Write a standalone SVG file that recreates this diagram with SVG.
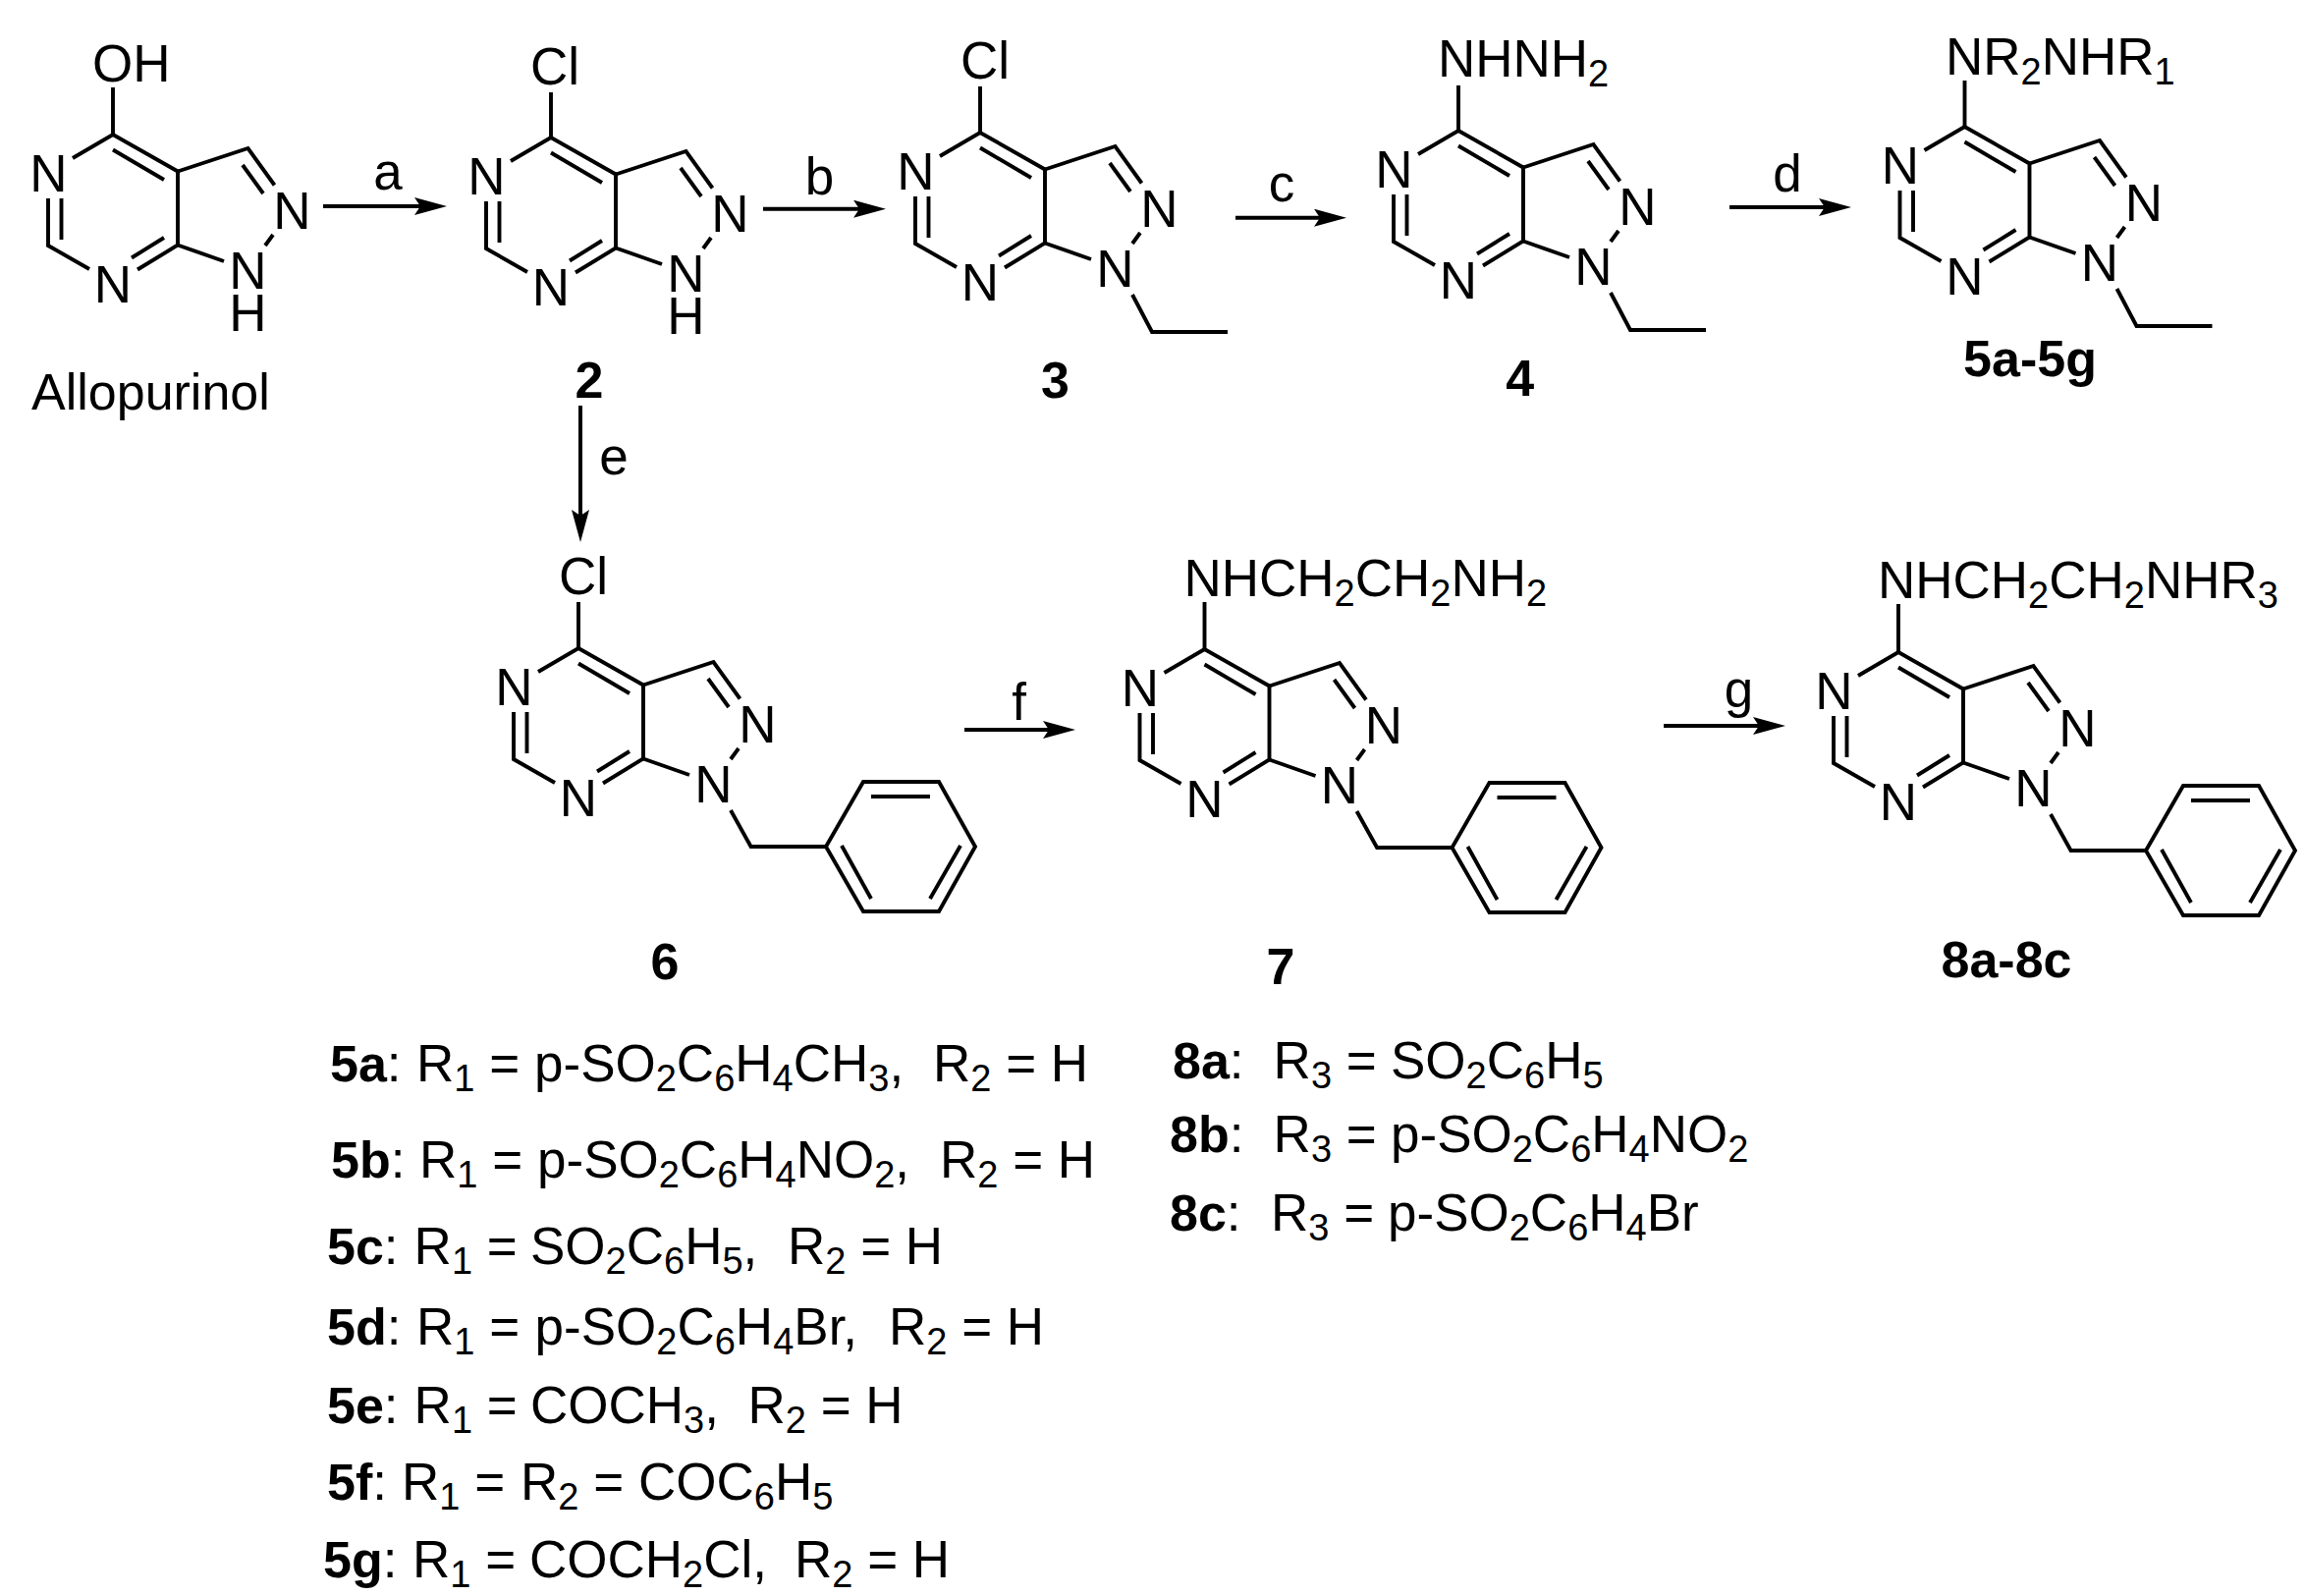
<svg xmlns="http://www.w3.org/2000/svg" xmlns:xlink="http://www.w3.org/1999/xlink" width="2346" height="1625" viewBox="0 0 2346 1625">
<style>
text{font-family:"Liberation Sans",Arial,sans-serif;font-size:53px;fill:#000}
.b{font-weight:bold;font-size:52px}
.s{font-size:38px}
.m{text-anchor:middle}
.bond{fill:none;stroke:#000;stroke-width:3.9;stroke-linecap:butt;stroke-linejoin:miter}
.arrow{fill:none;stroke:#000;stroke-width:4;marker-end:url(#head)}
</style>
<defs>
<marker id="head" markerUnits="userSpaceOnUse" viewBox="-6 -9 33 18" refX="0" refY="0" markerWidth="33" markerHeight="18" orient="auto"><path d="M0,0L-6,-9L27,0L-6,9Z" fill="#000"/></marker>
<g id="core" class="bond">
<path d="M-41,24L0,0L66,37.5L66,112.5L25,137.5"/>
<path d="M0,15.5L52,46"/>
<path d="M19,125.5L52,105"/>
<path d="M-66,65L-66,113L-24,137"/>
<path d="M-52.5,65L-52.5,107"/>
<path d="M66,37.5L137.5,14L164.5,51.5"/>
<path d="M132,31L153,60"/>
<path d="M163,102L155,113"/>
<path d="M66,112.5L113,129"/>
</g>
<path id="ethyl" class="bond" d="M155,165L175,203L252,203"/>
<g id="benzyl" class="bond">
<path d="M155,165L175.6,202L252,202"/>
<path d="M252,202L290,136L367,136L404,202L367,268L290,268Z"/>
<path d="M298,151L358,151M268,201L298,255M389,201L358,255"/>
</g>
</defs>
<g id="node-allopurinol" transform="translate(115,137)">
<use href="#core"/>
<path class="bond" d="M0,0V-48"/>
<text x="-21" y="-54">OH</text>
<text class="m" x="-65.5" y="58">N</text><text class="m" x="0" y="171">N</text><text class="m" x="182.5" y="96">N</text><text class="m"><tspan x="137.5" y="157">N</tspan><tspan x="137.5" y="200">H</tspan></text>
<text x="-83" y="280" style="font-size:52px">Allopurinol</text>
</g>
<g id="node-2" transform="translate(561,140)">
<use href="#core"/>
<path class="bond" d="M0,0V-46"/>
<text x="-21" y="-54">Cl</text>
<text class="m" x="-65.5" y="58">N</text><text class="m" x="0" y="171">N</text><text class="m" x="182.5" y="96">N</text><text class="m"><tspan x="137.5" y="157">N</tspan><tspan x="137.5" y="200">H</tspan></text>
<text class="b m" x="39" y="265">2</text>
</g>
<g id="node-3" transform="translate(998,135)">
<use href="#core"/><use href="#ethyl"/>
<path class="bond" d="M0,0V-47"/>
<text x="-20" y="-55">Cl</text>
<text class="m" x="-65.5" y="58">N</text><text class="m" x="0" y="171">N</text><text class="m" x="182.5" y="96">N</text><text class="m" x="137.5" y="157">N</text>
<text class="b m" x="76.5" y="270">3</text>
</g>
<g id="node-4" transform="translate(1485,133)">
<use href="#core"/><use href="#ethyl"/>
<path class="bond" d="M0,0V-46"/>
<text x="-21" y="-55">NHNH<tspan class="s" dy="10">2</tspan></text>
<text class="m" x="-65.5" y="58">N</text><text class="m" x="0" y="171">N</text><text class="m" x="182.5" y="96">N</text><text class="m" x="137.5" y="157">N</text>
<text class="b m" x="62.6" y="270">4</text>
</g>
<g id="node-5" transform="translate(2000.5,129)">
<use href="#core"/><use href="#ethyl"/>
<path class="bond" d="M0,0V-47"/>
<text x="-19.5" y="-53">NR<tspan class="s" dy="10">2</tspan><tspan dy="-10">NHR</tspan><tspan class="s" dy="10">1</tspan></text>
<text class="m" x="-65.5" y="58">N</text><text class="m" x="0" y="171">N</text><text class="m" x="182.5" y="96">N</text><text class="m" x="137.5" y="157">N</text>
<text class="b m" x="66.5" y="254">5a-5g</text>
</g>
<g id="node-6" transform="translate(589,660)">
<use href="#core"/><use href="#benzyl"/>
<path class="bond" d="M0,0V-47"/>
<text x="-20" y="-55">Cl</text>
<text class="m" x="-65.5" y="58">N</text><text class="m" x="0" y="171">N</text><text class="m" x="182.5" y="96">N</text><text class="m" x="137.5" y="157">N</text>
<text class="b m" x="88" y="337">6</text>
</g>
<g id="node-7" transform="translate(1226.5,661)">
<use href="#core"/><use href="#benzyl"/>
<path class="bond" d="M0,0V-48"/>
<text x="-21" y="-54">NHCH<tspan class="s" dy="10">2</tspan><tspan dy="-10">CH</tspan><tspan class="s" dy="10">2</tspan><tspan dy="-10">NH</tspan><tspan class="s" dy="10">2</tspan></text>
<text class="m" x="-65.5" y="58">N</text><text class="m" x="0" y="171">N</text><text class="m" x="182.5" y="96">N</text><text class="m" x="137.5" y="157">N</text>
<text class="b m" x="77.5" y="341">7</text>
</g>
<g id="node-8" transform="translate(1933,664)">
<use href="#core"/><use href="#benzyl"/>
<path class="bond" d="M0,0V-49"/>
<text x="-21" y="-55">NHCH<tspan class="s" dy="10">2</tspan><tspan dy="-10">CH</tspan><tspan class="s" dy="10">2</tspan><tspan dy="-10">NHR</tspan><tspan class="s" dy="10">3</tspan></text>
<text class="m" x="-65.5" y="58">N</text><text class="m" x="0" y="171">N</text><text class="m" x="182.5" y="96">N</text><text class="m" x="137.5" y="157">N</text>
<text class="b m" x="110" y="331">8a-8c</text>
</g>
<g id="connectors">
<path class="arrow" d="M329,210H428"/>
<path class="arrow" d="M777,212.7H875"/>
<path class="arrow" d="M1258,221.7H1344"/>
<path class="arrow" d="M1761,211H1858"/>
<path class="arrow" d="M591,413V525"/>
<path class="arrow" d="M982,743H1068"/>
<path class="arrow" d="M1694,739H1791"/>
<text class="m" x="395" y="193">a</text>
<text class="m" x="834.5" y="198">b</text>
<text class="m" x="1305" y="205">c</text>
<text class="m" x="1820" y="195">d</text>
<text class="m" x="625" y="483">e</text>
<text class="m" x="1037.5" y="733">f</text>
<text class="m" x="1770.5" y="720">g</text>
</g>
<g id="legend-5">
<text x="336" y="1100.6"><tspan class="b">5a</tspan>: <tspan x="424">R</tspan><tspan class="s" dy="10">1</tspan><tspan dy="-10"> = </tspan><tspan x="544">p-SO</tspan><tspan class="s" dy="10">2</tspan><tspan dy="-10">C</tspan><tspan class="s" dy="10">6</tspan><tspan dy="-10">H</tspan><tspan class="s" dy="10">4</tspan><tspan dy="-10">CH</tspan><tspan class="s" dy="10">3</tspan><tspan dy="-10">,</tspan><tspan x="950">R</tspan><tspan class="s" dy="10">2</tspan><tspan dy="-10"> = H</tspan></text>
<text x="337" y="1199"><tspan class="b">5b</tspan>: <tspan x="427">R</tspan><tspan class="s" dy="10">1</tspan><tspan dy="-10"> = </tspan><tspan x="547">p-SO</tspan><tspan class="s" dy="10">2</tspan><tspan dy="-10">C</tspan><tspan class="s" dy="10">6</tspan><tspan dy="-10">H</tspan><tspan class="s" dy="10">4</tspan><tspan dy="-10">NO</tspan><tspan class="s" dy="10">2</tspan><tspan dy="-10">,</tspan><tspan x="957">R</tspan><tspan class="s" dy="10">2</tspan><tspan dy="-10"> = H</tspan></text>
<text x="333" y="1286.5"><tspan class="b">5c</tspan>: <tspan x="421.6">R</tspan><tspan class="s" dy="10">1</tspan><tspan dy="-10"> = </tspan><tspan x="540">SO</tspan><tspan class="s" dy="10">2</tspan><tspan dy="-10">C</tspan><tspan class="s" dy="10">6</tspan><tspan dy="-10">H</tspan><tspan class="s" dy="10">5</tspan><tspan dy="-10">,</tspan><tspan x="802">R</tspan><tspan class="s" dy="10">2</tspan><tspan dy="-10"> = H</tspan></text>
<text x="333" y="1369"><tspan class="b">5d</tspan>: <tspan x="424">R</tspan><tspan class="s" dy="10">1</tspan><tspan dy="-10"> = </tspan><tspan x="544.6">p-SO</tspan><tspan class="s" dy="10">2</tspan><tspan dy="-10">C</tspan><tspan class="s" dy="10">6</tspan><tspan dy="-10">H</tspan><tspan class="s" dy="10">4</tspan><tspan dy="-10">Br,</tspan><tspan x="905">R</tspan><tspan class="s" dy="10">2</tspan><tspan dy="-10"> = H</tspan></text>
<text x="333" y="1449"><tspan class="b">5e</tspan>: <tspan x="421.6">R</tspan><tspan class="s" dy="10">1</tspan><tspan dy="-10"> = </tspan><tspan x="540">COCH</tspan><tspan class="s" dy="10">3</tspan><tspan dy="-10">,</tspan><tspan x="761.5">R</tspan><tspan class="s" dy="10">2</tspan><tspan dy="-10"> = H</tspan></text>
<text x="333" y="1527"><tspan class="b">5f</tspan>: <tspan x="409">R</tspan><tspan class="s" dy="10">1</tspan><tspan dy="-10"> = </tspan><tspan x="530">R</tspan><tspan class="s" dy="10">2</tspan><tspan dy="-10"> = </tspan><tspan x="650">COC</tspan><tspan class="s" dy="10">6</tspan><tspan dy="-10">H</tspan><tspan class="s" dy="10">5</tspan></text>
<text x="329" y="1606"><tspan class="b">5g</tspan>: <tspan x="420">R</tspan><tspan class="s" dy="10">1</tspan><tspan dy="-10"> = </tspan><tspan x="539">COCH</tspan><tspan class="s" dy="10">2</tspan><tspan dy="-10">Cl,</tspan><tspan x="809">R</tspan><tspan class="s" dy="10">2</tspan><tspan dy="-10"> = H</tspan></text>
</g>
<g id="legend-8">
<text x="1194" y="1098"><tspan class="b">8a</tspan>: <tspan x="1296.6">R</tspan><tspan class="s" dy="10">3</tspan><tspan dy="-10"> = </tspan><tspan x="1416">SO</tspan><tspan class="s" dy="10">2</tspan><tspan dy="-10">C</tspan><tspan class="s" dy="10">6</tspan><tspan dy="-10">H</tspan><tspan class="s" dy="10">5</tspan></text>
<text x="1191" y="1173"><tspan class="b">8b</tspan>: <tspan x="1296.6">R</tspan><tspan class="s" dy="10">3</tspan><tspan dy="-10"> = </tspan><tspan x="1416">p-SO</tspan><tspan class="s" dy="10">2</tspan><tspan dy="-10">C</tspan><tspan class="s" dy="10">6</tspan><tspan dy="-10">H</tspan><tspan class="s" dy="10">4</tspan><tspan dy="-10">NO</tspan><tspan class="s" dy="10">2</tspan></text>
<text x="1191" y="1253"><tspan class="b">8c</tspan>: <tspan x="1294">R</tspan><tspan class="s" dy="10">3</tspan><tspan dy="-10"> = </tspan><tspan x="1413">p-SO</tspan><tspan class="s" dy="10">2</tspan><tspan dy="-10">C</tspan><tspan class="s" dy="10">6</tspan><tspan dy="-10">H</tspan><tspan class="s" dy="10">4</tspan><tspan dy="-10">Br</tspan></text>
</g>
</svg>
